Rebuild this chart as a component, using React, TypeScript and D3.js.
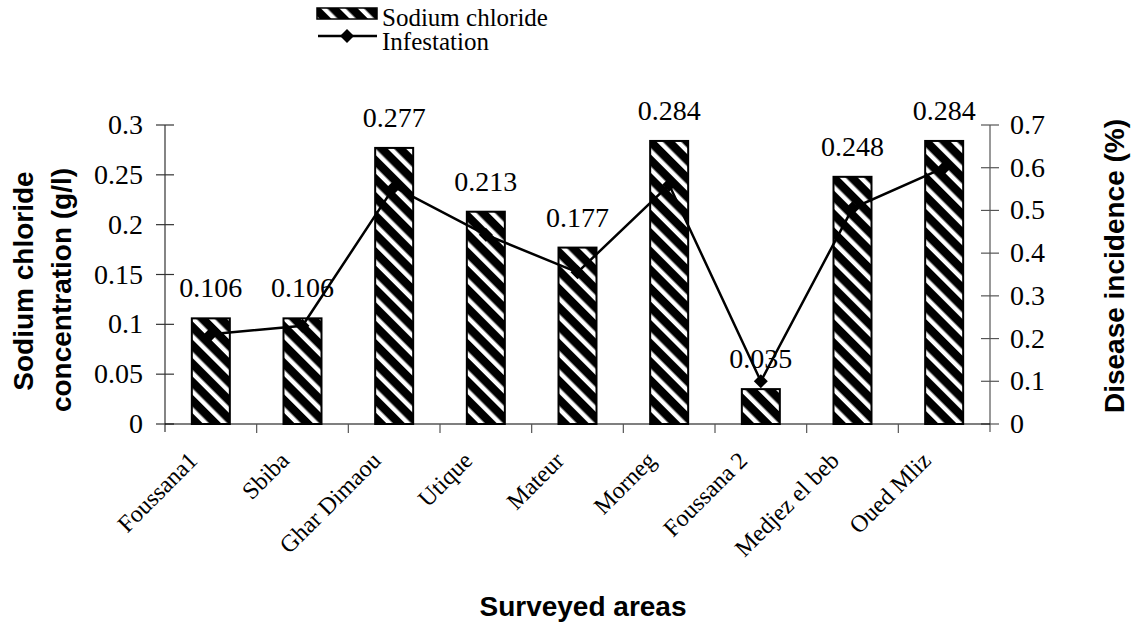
import React from 'react';
import * as d3 from 'd3';

const categories = ['Foussana1', 'Sbiba', 'Ghar Dimaou', 'Utique', 'Mateur', 'Morneg', 'Foussana 2', 'Medjez el beb', 'Oued Mliz'];
const sodium = [0.106, 0.106, 0.277, 0.213, 0.177, 0.284, 0.035, 0.248, 0.284];
const infestation = [0.21, 0.23, 0.555, 0.443, 0.355, 0.56, 0.1, 0.505, 0.6];
const leftTicks = [0, 0.05, 0.1, 0.15, 0.2, 0.25, 0.3];
const rightTicks = [0, 0.1, 0.2, 0.3, 0.4, 0.5, 0.6, 0.7];

const W = 1135;
const H = 628;
const serif = '"Liberation Serif", "Times New Roman", serif';
const sans = '"Liberation Sans", Arial, sans-serif';

export default function App() {
  const left = 165, right = 990, top = 125, bottom = 424;

  const x = d3.scaleBand<string>().domain(categories).range([left, right]).paddingInner(0).paddingOuter(0);
  const yL = d3.scaleLinear().domain([0, 0.3]).range([bottom, top]);
  const yR = d3.scaleLinear().domain([0, 0.7]).range([bottom, top]);

  const barW = 38;
  const cx = (c: string) => (x(c) as number) + x.bandwidth() / 2;

  const line = d3.line<number>()
    .x((_, i) => cx(categories[i]))
    .y(d => yR(d));

  const diamond = (px: number, py: number, r = 7) =>
    `M${px},${py - r}L${px + r},${py}L${px},${py + r}L${px - r},${py}Z`;

  const axisColor = '#333';

  return (
    <svg width={W} height={H} style={{ position: 'absolute', left: 0, top: 0, background: '#fff' }}>
      <defs>
        <pattern id="hatch" patternUnits="userSpaceOnUse" width="13" height="13" patternTransform="rotate(-45)">
          <rect width="13" height="13" fill="#000" />
          <rect x="0" y="0" width="4.5" height="13" fill="#fff" />
        </pattern>
      </defs>

      {/* legend */}
      <rect x={317} y={8} width={60} height={11} fill="url(#hatch)" stroke="#000" strokeWidth={1.5} />
      <text x={382} y={26} fontFamily={serif} fontSize={25}>Sodium chloride</text>
      <line x1={318} x2={377} y1={36} y2={36} stroke="#000" strokeWidth={2.5} />
      <path d={diamond(347, 36)} fill="#000" />
      <text x={382} y={50} fontFamily={serif} fontSize={25}>Infestation</text>

      {/* bars */}
      {categories.map((c, i) => (
        <rect key={c} x={cx(c) - barW / 2} y={yL(sodium[i])} width={barW} height={bottom - yL(sodium[i])}
          fill="url(#hatch)" stroke="#000" strokeWidth={2} />
      ))}

      {/* left axis */}
      <line x1={left} x2={left} y1={top} y2={bottom + 8} stroke={axisColor} strokeWidth={1.2} />
      {leftTicks.map(t => (
        <g key={t}>
          <line x1={left - 9} x2={left + 9} y1={yL(t)} y2={yL(t)} stroke={axisColor} strokeWidth={1.2} />
          <text x={143} y={yL(t) + 9} textAnchor="end" fontFamily={serif} fontSize={28}>{t}</text>
        </g>
      ))}

      {/* right axis */}
      <line x1={right} x2={right} y1={top} y2={bottom + 8} stroke="#555" strokeWidth={1.2} />
      {rightTicks.map(t => (
        <g key={t}>
          <line x1={right - 9} x2={right + 9} y1={yR(t)} y2={yR(t)} stroke="#555" strokeWidth={1.2} />
          <text x={1010} y={yR(t) + 9} fontFamily={serif} fontSize={28}>{t}</text>
        </g>
      ))}

      {/* x axis */}
      <line x1={left} x2={right} y1={bottom} y2={bottom} stroke="#000" strokeWidth={1.2} />
      {categories.slice(1).map(c => (
        <line key={c} x1={x(c)} x2={x(c)} y1={bottom} y2={bottom + 9} stroke="#555" strokeWidth={1.2} />
      ))}
      {categories.map(c => (
        <text key={c} transform={`translate(${cx(c) - 12},${462}) rotate(-45)`} textAnchor="end"
          fontFamily={serif} fontSize={24}>{c}</text>
      ))}

      {/* line series */}
      <path d={line(infestation) || ''} fill="none" stroke="#000" strokeWidth={2.5} />
      {infestation.map((v, i) => (
        <path key={i} d={diamond(cx(categories[i]), yR(v))} fill="#000" />
      ))}

      {/* bar value labels */}
      {categories.map((c, i) => (
        <text key={c} x={cx(c)} y={yL(sodium[i]) - 21} textAnchor="middle" fontFamily={serif} fontSize={28}>
          {sodium[i]}
        </text>
      ))}

      {/* axis titles */}
      <text transform="translate(33,281) rotate(-90)" textAnchor="middle" fontFamily={sans} fontWeight="bold" fontSize={28}>
        Sodium chloride
      </text>
      <text transform="translate(71,290) rotate(-90)" textAnchor="middle" fontFamily={sans} fontWeight="bold" fontSize={28}>
        concentration (g/l)
      </text>
      <text transform="translate(1124,266) rotate(-90)" textAnchor="middle" fontFamily={sans} fontWeight="bold" fontSize={28}>
        Disease incidence (%)
      </text>
      <text x={583} y={616} textAnchor="middle" fontFamily={sans} fontWeight="bold" fontSize={28}>
        Surveyed areas
      </text>
    </svg>
  );
}
